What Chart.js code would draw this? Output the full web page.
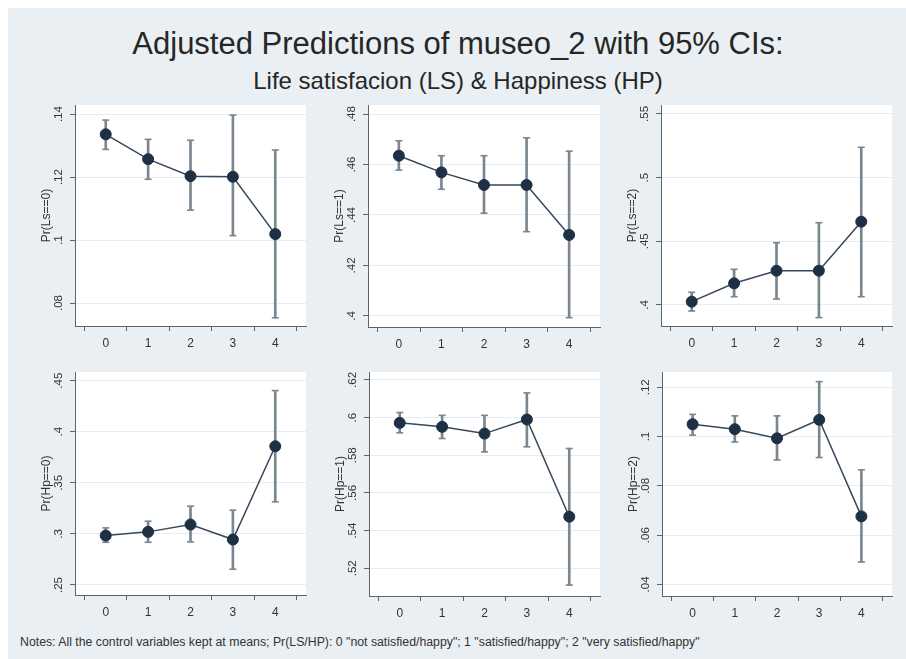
<!DOCTYPE html>
<html>
<head>
<meta charset="utf-8">
<script src="https://cdn.jsdelivr.net/npm/chart.js@4.4.1/dist/chart.umd.min.js"></script>
<style>
  html, body { margin: 0; padding: 0; background: #fff; width: 906px; height: 659px; overflow: hidden;
               font-family: "Liberation Sans", Arial, sans-serif; }
  #frame { position: absolute; left: 8px; top: 8px; width: 898px; height: 651px; background: #e9eff2; }
  .txt { position: absolute; left: 8px; width: 900px; text-align: center; white-space: nowrap; color: #262626; line-height: 1; }
  #title { top: 28px; font-size: 31px; }
  #subtitle { top: 69px; font-size: 24px; }
  #note { position: absolute; left: 20px; top: 636px; font-size: 12.3px; line-height: 1; color: #333; white-space: nowrap; }
  canvas { position: absolute; }
</style>
</head>
<body>
<div id="frame"></div>
<div class="txt" id="title">Adjusted Predictions of museo_2 with 95% CIs:</div>
<div class="txt" id="subtitle">Life satisfacion (LS) &amp; Happiness (HP)</div>
<div id="note">Notes: All the control variables kept at means; Pr(LS/HP): 0 "not satisfied/happy"; 1 "satisfied/happy"; 2 "very satisfied/happy"</div>

<canvas id="p1"></canvas>
<canvas id="p2"></canvas>
<canvas id="p3"></canvas>
<canvas id="p4"></canvas>
<canvas id="p5"></canvas>
<canvas id="p6"></canvas>

<script>
// museo_2 levels on the x axis
const museoLevels = [0, 1, 2, 3, 4];

// Predicted probabilities and 95% confidence limits, one block per outcome
const lsZeroPred = [0.1336, 0.1257, 0.1203, 0.1201, 0.1019];
const lsZeroLow  = [0.1288, 0.1193, 0.1095, 0.1014, 0.0753];
const lsZeroHigh = [0.1381, 0.1320, 0.1317, 0.1397, 0.1286];

const lsOnePred = [0.4635, 0.4569, 0.4519, 0.4519, 0.4321];
const lsOneLow  = [0.4578, 0.4502, 0.4407, 0.4334, 0.3993];
const lsOneHigh = [0.4694, 0.4635, 0.4635, 0.4706, 0.4653];

const lsTwoPred = [0.4026, 0.4170, 0.4269, 0.4269, 0.4654];
const lsTwoLow  = [0.3953, 0.4065, 0.4047, 0.3901, 0.4065];
const lsTwoHigh = [0.4100, 0.4280, 0.4489, 0.4646, 0.5238];

const hpZeroPred = [0.2984, 0.3020, 0.3092, 0.2945, 0.3858];
const hpZeroLow  = [0.2918, 0.2918, 0.2922, 0.2654, 0.3314];
const hpZeroHigh = [0.3059, 0.3124, 0.3271, 0.3232, 0.4403];

const hpOnePred = [0.5972, 0.5951, 0.5915, 0.5990, 0.5474];
const hpOneLow  = [0.5919, 0.5889, 0.5818, 0.5845, 0.5111];
const hpOneHigh = [0.6027, 0.6012, 0.6012, 0.6131, 0.5836];

const hpTwoPred = [0.1050, 0.1030, 0.0993, 0.1068, 0.0676];
const hpTwoLow  = [0.1006, 0.0978, 0.0905, 0.0915, 0.0491];
const hpTwoHigh = [0.1090, 0.1084, 0.1084, 0.1223, 0.0865];

// y-axis tick values and their labels
const lsZeroTicks = [0.08, 0.10, 0.12, 0.14];
const lsZeroTickLabels = ['.08', '.1', '.12', '.14'];
const lsOneTicks = [0.40, 0.42, 0.44, 0.46, 0.48];
const lsOneTickLabels = ['.4', '.42', '.44', '.46', '.48'];
const lsTwoTicks = [0.40, 0.45, 0.50, 0.55];
const lsTwoTickLabels = ['.4', '.45', '.5', '.55'];
const hpZeroTicks = [0.25, 0.30, 0.35, 0.40, 0.45];
const hpZeroTickLabels = ['.25', '.3', '.35', '.4', '.45'];
const hpOneTicks = [0.52, 0.54, 0.56, 0.58, 0.60, 0.62];
const hpOneTickLabels = ['.52', '.54', '.56', '.58', '.6', '.62'];
const hpTwoTicks = [0.04, 0.06, 0.08, 0.10, 0.12];
const hpTwoTickLabels = ['.04', '.06', '.08', '.1', '.12'];

// Panel definitions: plot-region box on the page and axis range
const panels = [
  { id: 'p1', yTitle: 'Pr(Ls==0)', pred: lsZeroPred, low: lsZeroLow, high: lsZeroHigh,
    ticks: lsZeroTicks, tickLabels: lsZeroTickLabels, yMin: 0.0727, yMax: 0.1429,
    box: { l: 75, t: 105, r: 306, b: 326 } },
  { id: 'p2', yTitle: 'Pr(Ls==1)', pred: lsOnePred, low: lsOneLow, high: lsOneHigh,
    ticks: lsOneTicks, tickLabels: lsOneTickLabels, yMin: 0.3956, yMax: 0.4836,
    box: { l: 368, t: 105, r: 600, b: 327 } },
  { id: 'p3', yTitle: 'Pr(Ls==2)', pred: lsTwoPred, low: lsTwoLow, high: lsTwoHigh,
    ticks: lsTwoTicks, tickLabels: lsTwoTickLabels, yMin: 0.3835, yMax: 0.557,
    box: { l: 661, t: 105, r: 892, b: 326 } },
  { id: 'p4', yTitle: 'Pr(Hp==0)', pred: hpZeroPred, low: hpZeroLow, high: hpZeroHigh,
    ticks: hpZeroTicks, tickLabels: hpZeroTickLabels, yMin: 0.2402, yMax: 0.4585,
    box: { l: 75, t: 372, r: 306, b: 595 } },
  { id: 'p5', yTitle: 'Pr(Hp==1)', pred: hpOnePred, low: hpOneLow, high: hpOneHigh,
    ticks: hpOneTicks, tickLabels: hpOneTickLabels, yMin: 0.5053, yMax: 0.6242,
    box: { l: 369, t: 372, r: 600, b: 596 } },
  { id: 'p6', yTitle: 'Pr(Hp==2)', pred: hpTwoPred, low: hpTwoLow, high: hpTwoHigh,
    ticks: hpTwoTicks, tickLabels: hpTwoTickLabels, yMin: 0.0353, yMax: 0.1262,
    box: { l: 662, t: 372, r: 892, b: 596 } }
];

const AXIS_W = 62, AXIS_H = 34, PAD_T = 10, PAD_R = 10;
const FONT = '"Liberation Sans", Arial, sans-serif';
const axisColor = '#5e6366';
const ciColor = '#7b868f';
const lineColor = '#36485a';
const markerColor = '#1d3044';

// White plot region behind the grid
const plotRegion = {
  id: 'plotRegion',
  beforeDraw(chart) {
    const a = chart.chartArea, ctx = chart.ctx;
    ctx.save();
    ctx.fillStyle = '#ffffff';
    ctx.fillRect(a.left, a.top, a.right - a.left, a.bottom - a.top);
    ctx.restore();
  }
};

// Vertical y tick labels, placed from the y scale
const verticalYLabels = {
  id: 'verticalYLabels',
  afterDraw(chart, args, opts) {
    const y = chart.scales.y, ctx = chart.ctx;
    ctx.save();
    ctx.font = '11.5px ' + FONT;
    ctx.fillStyle = '#333';
    ctx.textAlign = 'center';
    ctx.textBaseline = 'middle';
    y.ticks.forEach((t, i) => {
      const py = y.getPixelForValue(t.value);
      ctx.save();
      ctx.translate(chart.chartArea.left - 16, py);
      ctx.rotate(-Math.PI / 2);
      ctx.fillText(opts.labels[i], 0, 0);
      ctx.restore();
    });
    ctx.restore();
  }
};

panels.forEach(p => {
  const cv = document.getElementById(p.id);
  const w = (p.box.r - p.box.l) + AXIS_W + PAD_R;
  const h = (p.box.b - p.box.t) + PAD_T + AXIS_H;
  cv.width = w; cv.height = h;
  cv.style.left = (p.box.l - AXIS_W) + 'px';
  cv.style.top = (p.box.t - PAD_T) + 'px';
  cv.style.width = w + 'px';
  cv.style.height = h + 'px';

  const pts = museoLevels.map((x, i) => ({ x, y: p.pred[i] }));
  const bars = museoLevels.map((x, i) => ({ x, y: [p.low[i], p.high[i]] }));
  const lows = museoLevels.map((x, i) => ({ x, y: p.low[i] }));
  const highs = museoLevels.map((x, i) => ({ x, y: p.high[i] }));

  new Chart(cv, {
    type: 'line',
    data: {
      datasets: [
        { type: 'bar', data: bars, backgroundColor: ciColor, borderWidth: 0,
          barThickness: 2, grouped: false, order: 3 },
        { type: 'line', data: lows, showLine: false, pointStyle: 'line',
          pointRadius: 3.5, borderColor: ciColor, borderWidth: 1.6, order: 2 },
        { type: 'line', data: highs, showLine: false, pointStyle: 'line',
          pointRadius: 3.5, borderColor: ciColor, borderWidth: 1.6, order: 2 },
        { type: 'line', data: pts, borderColor: lineColor, borderWidth: 1.5, tension: 0,
          pointRadius: 5.5, pointBackgroundColor: markerColor, pointBorderColor: markerColor,
          pointBorderWidth: 1, order: 0 }
      ]
    },
    options: {
      responsive: false, animation: false, devicePixelRatio: 1,
      layout: { padding: { top: PAD_T, right: PAD_R, left: 0, bottom: 0 } },
      plugins: {
        legend: { display: false }, tooltip: { enabled: false },
        verticalYLabels: { labels: p.tickLabels }
      },
      scales: {
        x: {
          type: 'linear', min: -0.18, max: 4.18,
          afterBuildTicks: s => { s.ticks = museoLevels.map(v => ({ value: v })); },
          afterFit: s => { s.height = AXIS_H; },
          grid: { drawOnChartArea: false, drawTicks: true, tickLength: 5, tickColor: axisColor, tickWidth: 1 },
          border: { display: true, color: axisColor, width: 1 },
          ticks: { padding: 5, color: '#333', font: { family: FONT, size: 12 },
                   callback: v => String(v), maxRotation: 0 }
        },
        y: {
          type: 'linear', min: p.yMin, max: p.yMax,
          afterBuildTicks: s => { s.ticks = p.ticks.map(v => ({ value: v })); },
          afterFit: s => { s.width = AXIS_W; },
          grid: { color: '#e6edf0', lineWidth: 1, drawTicks: true, tickLength: 5, tickColor: axisColor },
          border: { display: true, color: axisColor, width: 1 },
          ticks: { display: false },
          title: { display: true, text: p.yTitle, color: '#333',
                   font: { family: FONT, size: 12 }, padding: { top: 26, bottom: 0 } }
        }
      }
    },
    plugins: [plotRegion, verticalYLabels]
  });
});
</script>
</body>
</html>
